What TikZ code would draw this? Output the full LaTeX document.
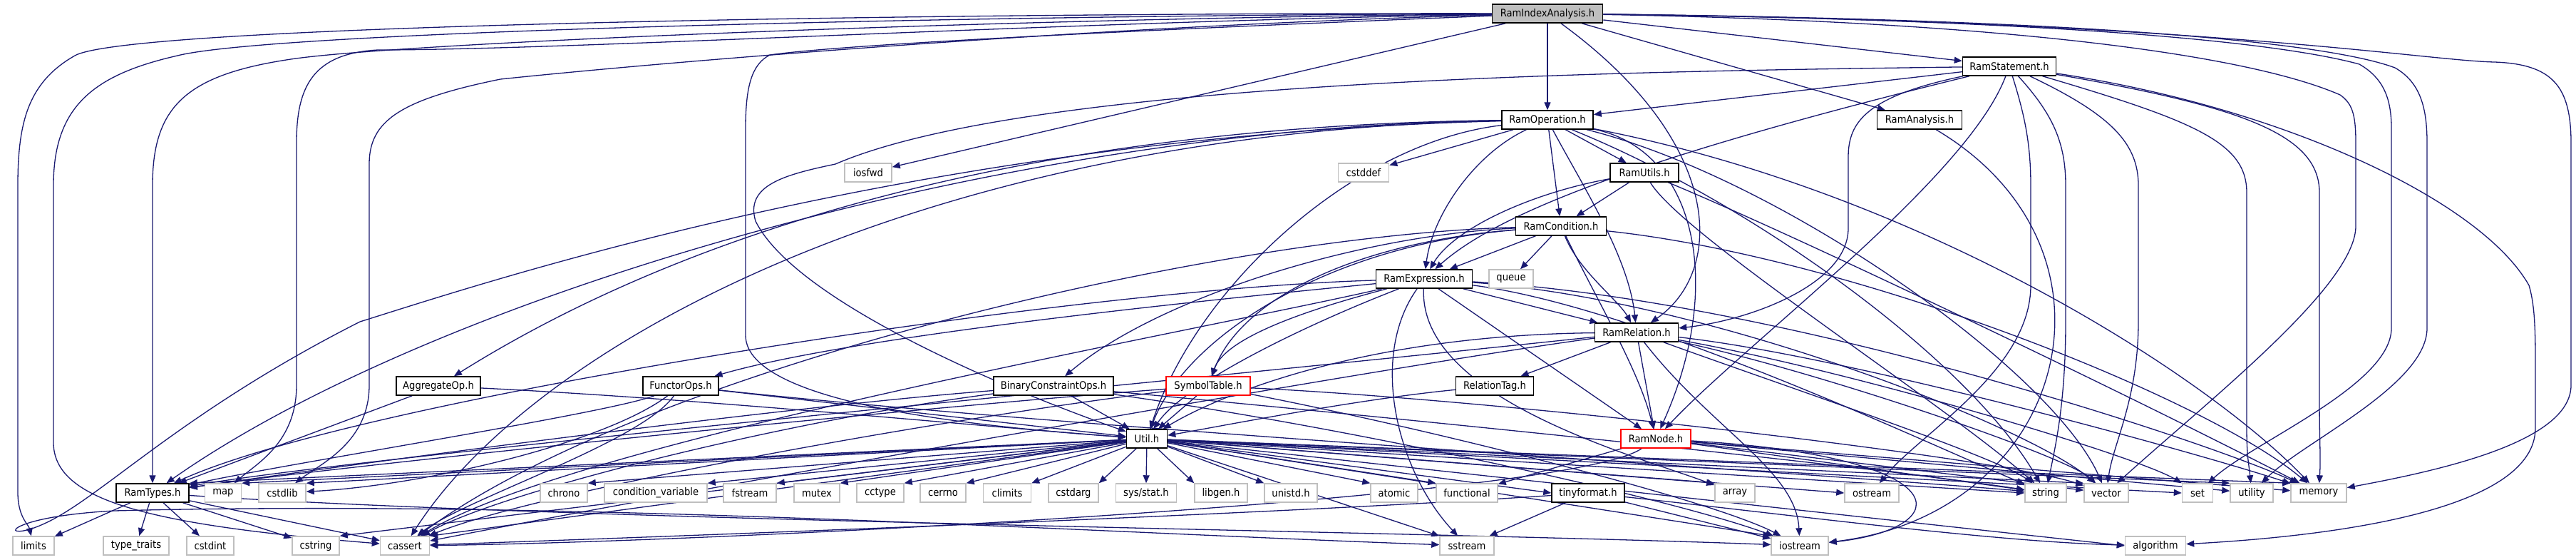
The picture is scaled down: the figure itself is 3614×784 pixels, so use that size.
\documentclass[tikz,border=0pt]{standalone}
\usepackage{fontspec}
\setmainfont{DejaVu Sans Condensed}
\usetikzlibrary{arrows.meta}
\definecolor{edgec}{HTML}{191970}
\definecolor{leafc}{HTML}{BFBFBF}
\definecolor{rootc}{HTML}{BFBFBF}
\definecolor{redc}{HTML}{FF0000}
\pgfdeclarelayer{bg}
\pgfsetlayers{bg,main}
\tikzset{
 e/.style={draw=edgec, line width=0.65pt, -{Triangle[length=5.5pt,width=4.5pt]}},
 nb/.style={draw=black, fill=white, line width=0.75pt, minimum height=13pt, inner sep=0pt, text=black, font=\fontsize{7.3}{8}\selectfont},
 lf/.style={nb, draw=leafc},
 bw/.style={minimum width=#1*0.5pt},
}
\begin{document}
\begin{tikzpicture}[x=0.5pt,y=-0.5pt]
\useasboundingbox (0,0) rectangle (3614,784);
% nodes
\node[nb,fill=rootc,bw=155] (ria) at (2171,19) {RamIndexAnalysis.h};
\node[nb,bw=131] (rs) at (2819,93) {RamStatement.h};
\node[nb,bw=128] (ro) at (2171,168) {RamOperation.h};
\node[nb,bw=119] (ran) at (2693,168) {RamAnalysis.h};
\node[lf,bw=66] (iosfwd) at (1218,242) {iosfwd};
\node[lf,bw=71] (cstddef) at (1913,242) {cstddef};
\node[nb,bw=96] (rut) at (2307,242) {RamUtils.h};
\node[nb,bw=127] (rcond) at (2190,317) {RamCondition.h};
\node[nb,bw=135] (rexpr) at (1998,391) {RamExpression.h};
\node[lf,bw=62] (queue) at (2120,391) {queue};
\node[nb,bw=117] (rrel) at (2296,466) {RamRelation.h};
\node[nb,bw=118] (aggop) at (615,541) {AggregateOp.h};
\node[nb,bw=106] (fops) at (955,541) {FunctorOps.h};
\node[nb,bw=168] (bco) at (1478,541) {BinaryConstraintOps.h};
\node[nb,draw=redc,bw=118] (symt) at (1695,541) {SymbolTable.h};
\node[nb,bw=109] (rtag) at (2097,541) {RelationTag.h};
\node[nb,bw=57] (util) at (1609,615) {Util.h};
\node[nb,draw=redc,bw=98] (rnode) at (2323,615) {RamNode.h};
% row 691
\node[nb,bw=102] (rtypes) at (214,691) {RamTypes.h};
\node[lf,bw=51] (map) at (313,691) {map};
\node[lf,bw=66] (cstdlib) at (396,691) {cstdlib};
\node[lf,bw=66] (chrono) at (791,691) {chrono};
\node[lf,bw=144] (condvar) at (920,691) {condition\_variable};
\node[lf,bw=74] (fstream) at (1052,691) {fstream};
\node[lf,bw=64] (mutex) at (1146,691) {mutex};
\node[lf,bw=66] (cctype) at (1235,691) {cctype};
\node[lf,bw=64] (cerrno) at (1323,691) {cerrno};
\node[lf,bw=67] (climits) at (1413,691) {climits};
\node[lf,bw=70] (cstdarg) at (1506,691) {cstdarg};
\node[lf,bw=85] (sysstat) at (1608,691) {sys/stat.h};
\node[lf,bw=74] (libgen) at (1713,691) {libgen.h};
\node[lf,bw=74] (unistd) at (1811,691) {unistd.h};
\node[lf,bw=66] (atomic) at (1956,691) {atomic};
\node[lf,bw=86] (functional) at (2058,691) {functional};
\node[nb,bw=102] (tiny) at (2228,691) {tinyformat.h};
\node[lf,bw=56] (array) at (2434,691) {array};
\node[lf,bw=76] (ostream) at (2626,691) {ostream};
\node[lf,bw=58] (string) at (2870,691) {string};
\node[lf,bw=62] (vector) at (2955,691) {vector};
\node[lf,bw=43] (set) at (3083,691) {set};
\node[lf,bw=60] (utility) at (3159,691) {utility};
\node[lf,bw=78] (memory) at (3253,691) {memory};
% row 765
\node[lf,bw=58] (limits) at (47,765) {limits};
\node[lf,bw=92] (typetraits) at (191,765) {type\_traits};
\node[lf,bw=66] (cstdint) at (295,765) {cstdint};
\node[lf,bw=66] (cstring) at (443,765) {cstring};
\node[lf,bw=69] (cassert) at (568,765) {cassert};
\node[lf,bw=76] (sstream) at (2058,765) {sstream};
\node[lf,bw=80] (iostream) at (2525,765) {iostream};
\node[lf,bw=85] (algorithm) at (3024,765) {algorithm};

\begin{pgfonlayer}{bg}
\fill[white] (0,0) rectangle (3614,784);
% RamIndexAnalysis.h
\draw[e] (ria) -- (rs);
\draw[e] (ria) -- (ro);
\draw[e] (ria) -- (ran);
\draw[e] (ria) -- (iosfwd);
\draw[e] (ria) .. controls (2420,200) and (2420,380) .. (rrel);
\draw[e] (ria) .. controls (1300,18) and (180,35) .. (105,78) .. controls (40,115) and (25,170) .. (25,260) -- (25,690) .. controls (25,725) and (40,735) .. (limits);
\draw[e] (ria) .. controls (1300,22) and (380,45) .. (249,78) .. controls (130,105) and (75,150) .. (75,260) -- (75,620) .. controls (75,700) and (200,735) .. (cassert);
\draw[e] (ria) .. controls (1400,26) and (560,60) .. (408,83) .. controls (260,105) and (214,150) .. (214,260) -- (rtypes);
\draw[e] (ria) .. controls (1500,30) and (800,70) .. (530,70) .. controls (440,75) and (416,120) .. (416,200) -- (416,540) .. controls (416,620) and (360,650) .. (map);
\draw[e] (ria) .. controls (1600,34) and (1000,80) .. (702,111) .. controls (560,140) and (518,170) .. (518,230) -- (518,540) .. controls (518,620) and (450,650) .. (cstdlib);
\draw[e] (ria) .. controls (1700,38) and (1200,60) .. (1080,77) .. controls (1055,90) and (1046,120) .. (1046,180) -- (1046,470) .. controls (1046,570) and (1400,600) .. (util);
\draw[e] (ria) .. controls (2800,30) and (3150,75) .. (3283,133) .. controls (3300,145) and (3305,160) .. (3305,200) -- (3305,317) .. controls (3305,400) and (3100,560) .. (vector);
\draw[e] (ria) .. controls (2900,28) and (3200,60) .. (3310,90) .. controls (3345,110) and (3355,140) .. (3355,180) -- (3355,460) .. controls (3355,540) and (3160,620) .. (set);
\draw[e] (ria) .. controls (3000,28) and (3280,65) .. (3360,95) .. controls (3395,115) and (3405,150) .. (3405,200) -- (3405,460) .. controls (3405,540) and (3230,620) .. (utility);
\draw[e] (ria) .. controls (3100,30) and (3400,85) .. (3500,87) .. controls (3580,90) and (3607,120) .. (3607,200) -- (3607,540) .. controls (3607,620) and (3420,660) .. (memory);
% RamStatement.h
\draw[e] (rs) -- (ro);
\draw[e] (rs) .. controls (2620,135) and (2593,170) .. (2593,220) -- (2593,320) .. controls (2593,400) and (2450,450) .. (rrel);
\draw[e] (rs) .. controls (2300,220) and (2100,300) .. (rexpr);
\draw[e] (rs) .. controls (2760,250) and (2450,480) .. (rnode);
\draw[e] (rs) .. controls (2300,100) and (1450,110) .. (1172,230) .. controls (1100,245) and (1045,260) .. (1060,310) .. controls (1120,430) and (1450,560) .. (util);
\draw[e] (rs) .. controls (2840,160) and (2849,200) .. (2849,260) -- (2849,400) .. controls (2849,520) and (2690,610) .. (ostream);
\draw[e] (rs) .. controls (2880,160) and (2898,200) .. (2898,260) -- (2898,450) .. controls (2898,560) and (2885,620) .. (string);
\draw[e] (rs) .. controls (2960,160) and (3000,200) .. (3000,260) -- (3000,450) .. controls (3000,560) and (2965,620) .. (vector);
\draw[e] (rs) .. controls (3080,170) and (3152,200) .. (3152,270) -- (3152,600) .. controls (3152,640) and (3155,650) .. (utility);
\draw[e] (rs) .. controls (3150,150) and (3254,190) .. (3254,270) -- (3254,560) .. controls (3254,620) and (3256,640) .. (memory);
\draw[e] (rs) .. controls (3200,150) and (3480,280) .. (3548,400) .. controls (3557,430) and (3557,470) .. (3557,520) -- (3557,600) .. controls (3557,710) and (3300,750) .. (algorithm);
% RamOperation.h
\draw[e] (ro) -- (rcond);
\draw[e] (ro) -- (rut);
\draw[e] (ro) -- (cstddef);
\draw[e] (ro) .. controls (2070,215) and (2010,300) .. (rexpr);
\draw[e] (ro) .. controls (2220,260) and (2285,360) .. (rrel);
\draw[e] (ro) .. controls (2380,210) and (2420,400) .. (rnode);
\draw[e] (ro) .. controls (2450,280) and (2760,500) .. (string);
\draw[e] (ro) .. controls (2500,250) and (2880,520) .. (vector);
\draw[e] (ro) .. controls (2700,270) and (3100,530) .. (memory);
\draw[e] (ro) .. controls (1500,175) and (1000,300) .. (aggop);
\draw[e] (ro) .. controls (1400,178) and (600,420) .. (rtypes);
\draw[e] (ro) .. controls (1900,200) and (1680,400) .. (util);
\draw[e] (ro) .. controls (1300,185) and (750,480) .. (cassert);
\draw[e] (ro) .. controls (1300,190) and (700,390) .. (505,451) .. controls (250,580) and (140,700) .. (60,735) .. controls (0,762) and (-5,725) .. (160,716) .. controls (800,700) and (1500,745) .. (sstream);
% RamUtils.h
\draw[e] (rut) -- (rcond);
\draw[e] (rut) .. controls (2150,270) and (2040,320) .. (rexpr);
\draw[e] (rut) .. controls (2360,330) and (2720,560) .. (string);
\draw[e] (rut) .. controls (2520,330) and (3000,560) .. (memory);
% RamCondition.h
\draw[e] (rcond) -- (queue);
\draw[e] (rcond) -- (rexpr);
\draw[e] (rcond) .. controls (2215,380) and (2270,420) .. (rrel);
\draw[e] (rcond) .. controls (2240,420) and (2300,520) .. (rnode);
\draw[e] (rcond) .. controls (1900,330) and (1620,420) .. (bco);
\draw[e] (rcond) .. controls (1900,340) and (1740,420) .. (symt);
\draw[e] (rcond) .. controls (1850,345) and (1660,480) .. (util);
\draw[e] (rcond) .. controls (1700,330) and (900,520) .. (cassert);
\draw[e] (rcond) .. controls (2600,360) and (3100,560) .. (memory);
% RamExpression.h
\draw[e] (rexpr) -- (rrel);
\draw[e] (rexpr) -- (rnode);
\draw[e] (rexpr) .. controls (1850,430) and (1720,470) .. (symt);
\draw[e] (rexpr) .. controls (1700,420) and (1200,470) .. (fops);
\draw[e] (rexpr) .. controls (1820,460) and (1660,540) .. (util);
\draw[e] (rexpr) .. controls (1500,405) and (500,560) .. (rtypes);
\draw[e] (rexpr) .. controls (1700,460) and (800,620) .. (cassert);
\draw[e] (rexpr) .. controls (1920,500) and (1960,660) .. (sstream);
\draw[e] (rexpr) .. controls (1990,560) and (2300,640) .. (array);
\draw[e] (rexpr) .. controls (2300,430) and (2700,620) .. (string);
\draw[e] (rexpr) .. controls (2400,420) and (2850,600) .. (vector);
\draw[e] (rexpr) .. controls (2500,420) and (3100,620) .. (memory);
% RamRelation.h
\draw[e] (rrel) -- (rtag);
\draw[e] (rrel) -- (rnode);
\draw[e] (rrel) .. controls (1900,470) and (1700,560) .. (util);
\draw[e] (rrel) .. controls (1600,540) and (500,640) .. (rtypes);
\draw[e] (rrel) .. controls (2400,600) and (2520,660) .. (iostream);
\draw[e] (rrel) .. controls (2500,540) and (2800,640) .. (string);
\draw[e] (rrel) .. controls (2550,520) and (2900,640) .. (vector);
\draw[e] (rrel) .. controls (2600,520) and (3000,640) .. (set);
\draw[e] (rrel) .. controls (2600,500) and (3100,640) .. (memory);
\draw[e] (rrel) .. controls (1900,520) and (900,700) .. (cassert);
% RelationTag.h
\draw[e] (rtag) .. controls (1900,560) and (1700,600) .. (util);
% SymbolTable.h
\draw[e] (symt) -- (util);
\draw[e] (symt) .. controls (1300,570) and (500,650) .. (rtypes);
\draw[e] (symt) .. controls (1300,590) and (750,690) .. (cassert);
\draw[e] (symt) .. controls (2000,600) and (2400,700) .. (iostream);
\draw[e] (symt) .. controls (2100,560) and (2800,640) .. (vector);
% BinaryConstraintOps.h
\draw[e] (bco) -- (util);
\draw[e] (bco) .. controls (1100,570) and (500,650) .. (rtypes);
\draw[e] (bco) .. controls (1100,590) and (700,690) .. (cassert);
\draw[e] (bco) .. controls (1900,600) and (2350,700) .. (iostream);
\draw[e] (bco) .. controls (1900,580) and (2600,650) .. (string);
% FunctorOps.h
\draw[e] (fops) -- (util);
\draw[e] (fops) .. controls (850,580) and (400,650) .. (rtypes);
\draw[e] (fops) .. controls (900,620) and (650,700) .. (cassert);
\draw[e] (fops) .. controls (850,620) and (600,680) .. (cstdlib);
\draw[e] (fops) .. controls (1500,600) and (2500,660) .. (string);
% AggregateOp.h
\draw[e] (aggop) -- (rtypes);
\draw[e] (aggop) .. controls (1000,560) and (1400,600) .. (util);
% Util.h
\foreach \t/\a in {rtypes/north east,map/north east,cstdlib/north east,chrono/north east,condvar/north east,fstream/north east,mutex/north east,cctype/north east,cerrno/north east,climits/north east,cstdarg/north east,sysstat/north,libgen/north west,unistd/north west,atomic/north west,functional/north west,tiny/west,array/north west,ostream/west,string/west,vector/north west,set/west,utility/north west,memory/north west,iostream/north west,sstream/north west,algorithm/west,cassert/north east,cstring/north east}
  \draw[e] (util) -- (\t.\a);
% RamNode.h
\draw[e] (rnode) -- (functional);
\draw[e] (rnode) .. controls (2200,700) and (1000,760) .. (cassert);
\draw[e] (rnode) .. controls (2750,640) and (2750,740) .. (iostream);
\draw[e] (rnode) -- (string);
\draw[e] (rnode) -- (vector);
\draw[e] (rnode) -- (utility);
\draw[e] (rnode) -- (memory);
% tinyformat.h
\draw[e] (tiny) -- (sstream);
\draw[e] (tiny) -- (iostream);
\draw[e] (tiny) .. controls (2500,720) and (2800,760) .. (algorithm);
\draw[e] (tiny) .. controls (1800,720) and (1000,750) .. (cassert);
% RamTypes.h
\foreach \t in {limits,typetraits,cstdint,cstring,cassert}
  \draw[e] (rtypes) -- (\t);
\draw[e] (rtypes) .. controls (800,730) and (2000,745) .. (iostream);
% RamAnalysis.h
\draw[e] (ran) .. controls (3000,350) and (2900,720) .. (iostream);
\end{pgfonlayer}
\end{tikzpicture}
\end{document}
